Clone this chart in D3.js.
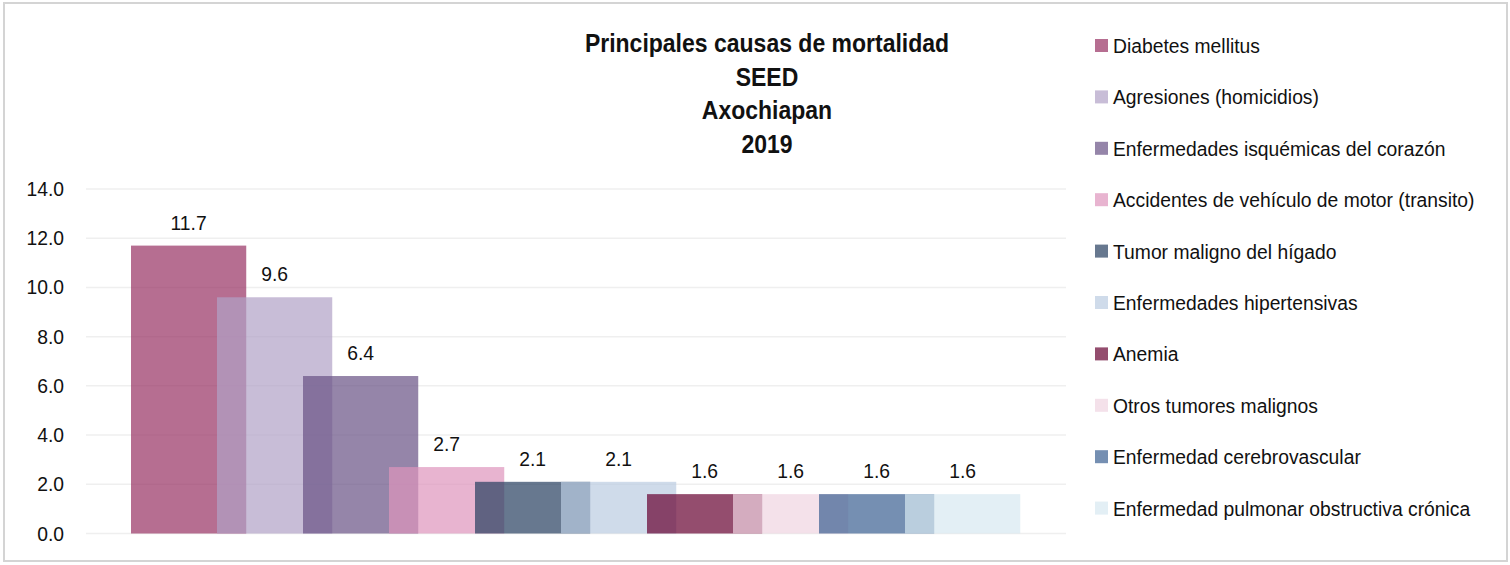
<!DOCTYPE html>
<html>
<head>
<meta charset="utf-8">
<script src="https://cdn.jsdelivr.net/npm/d3@7"></script>
<style>
  body { margin: 0; background: #fff; }
  svg { display: block; }
  text { font-family: "Liberation Sans", Arial, sans-serif; fill: #111; }
</style>
</head>
<body>
<script>
// data
var causes = [
  'Diabetes mellitus',
  'Agresiones (homicidios)',
  'Enfermedades isquémicas del corazón',
  'Accidentes de vehículo de motor (transito)',
  'Tumor maligno del hígado',
  'Enfermedades hipertensivas',
  'Anemia',
  'Otros tumores malignos',
  'Enfermedad cerebrovascular',
  'Enfermedad pulmonar obstructiva crónica'
];
var values = [11.7, 9.6, 6.4, 2.7, 2.1, 2.1, 1.6, 1.6, 1.6, 1.6];
var colors = ['#973162', '#b0a1c6', '#685184', '#de94bc', '#273e5f',
              '#baCCe1', '#660131', '#efd4e1', '#3a6091', '#d7e8f1'];
var yTicks = [0, 2, 4, 6, 8, 10, 12, 14];
var titleLines = ['Principales causas de mortalidad', 'SEED', 'Axochiapan', '2019'];

var W = 1510, H = 565;
var squeeze = 0.92; // the original font is a bit narrower than Liberation Sans

function place(x, y) {
  return "translate(" + x + "," + y + ") scale(" + squeeze + ",1)";
}

var svg = d3.select("body")
  .append("svg")
    .attr("width", W)
    .attr("height", H);

// frame of the chart
svg.append("rect")
  .attr("x", 4).attr("y", 3)
  .attr("width", 1503).attr("height", 558)
  .attr("fill", "#fff")
  .attr("stroke", "#d4d4d4")
  .attr("stroke-width", 2);

var y = d3.scaleLinear().domain([0, 14]).range([533.5, 189]);
var x = d3.scaleBand().domain(causes).range([131, 991]).padding(0);
var barW = x.step() * 1.34; // bars overlap the next one (3d look)

// gridlines
svg.append("g")
  .selectAll("line")
  .data(yTicks)
  .enter().append("line")
    .attr("x1", 86).attr("x2", 1066)
    .attr("y1", function(d) { return y(d); })
    .attr("y2", function(d) { return y(d); })
    .attr("stroke", "#efefef")
    .attr("stroke-width", 1.5);

// y axis labels
svg.append("g")
  .selectAll("text")
  .data(yTicks)
  .enter().append("text")
    .attr("transform", function(d) { return place(64, y(d) + 7); })
    .attr("text-anchor", "end")
    .style("font-size", "21px")
    .text(function(d) { return d.toFixed(1); });

// bars
svg.append("g")
  .selectAll("rect")
  .data(values)
  .enter().append("rect")
    .attr("x", function(d, i) { return x(causes[i]); })
    .attr("y", function(d) { return y(d); })
    .attr("width", barW)
    .attr("height", function(d) { return y(0) - y(d); })
    .attr("fill", function(d, i) { return colors[i]; })
    .attr("fill-opacity", 0.7);

// value labels
svg.append("g")
  .selectAll("text")
  .data(values)
  .enter().append("text")
    .attr("transform", function(d, i) { return place(x(causes[i]) + barW / 2, y(d) - 16); })
    .attr("text-anchor", "middle")
    .style("font-size", "21px")
    .text(function(d) { return d.toFixed(1); });

// title
svg.append("g")
  .selectAll("text")
  .data(titleLines)
  .enter().append("text")
    .attr("transform", function(d, i) { return place(767, 52 + i * 33.5); })
    .attr("text-anchor", "middle")
    .style("font-size", "25px")
    .style("font-weight", "bold")
    .text(function(d) { return d; });

// legend
var legend = svg.append("g")
  .selectAll("g")
  .data(causes)
  .enter().append("g")
    .attr("transform", function(d, i) { return "translate(1095," + (53 + i * 51.4) + ")"; });

legend.append("rect")
  .attr("x", 0).attr("y", -14)
  .attr("width", 13).attr("height", 13)
  .attr("fill", function(d, i) { return colors[i]; })
  .attr("fill-opacity", 0.7);

legend.append("text")
  .attr("transform", place(18, 0))
  .style("font-size", "21px")
  .text(function(d) { return d; });
</script>
</body>
</html>
